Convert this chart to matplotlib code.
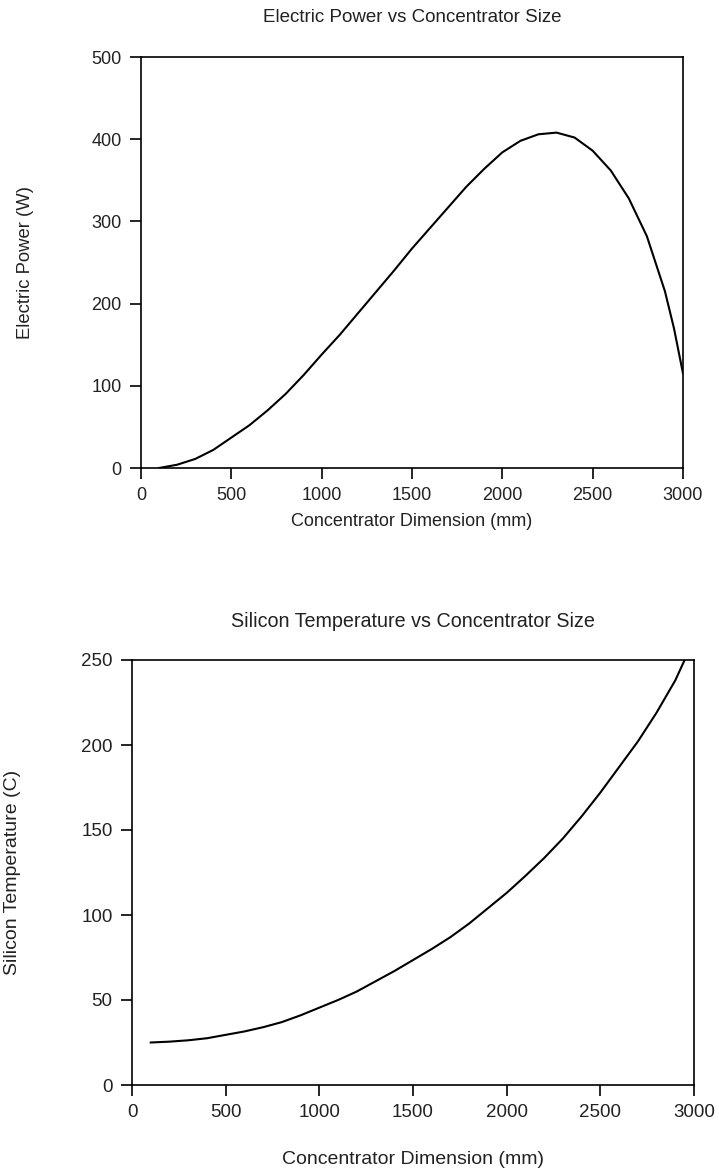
import matplotlib
matplotlib.use("Agg")
import matplotlib.pyplot as plt

plt.rcParams['font.family'] = ['Liberation Sans', 'DejaVu Sans']

# Electric power vs concentrator dimension
dim_power = [100, 200, 300, 400, 500, 600, 700, 800, 900, 1000, 1100, 1200, 1300, 1400,
             1500, 1600, 1700, 1800, 1900, 2000, 2100, 2200, 2300, 2400, 2500, 2600,
             2700, 2800, 2900, 2950, 3000]
power = [0, 4, 11, 22, 37, 52, 70, 90, 113, 138, 162, 188, 214, 240,
         267, 292, 317, 342, 364, 384, 398, 406, 408, 402, 386, 362,
         328, 282, 215, 170, 115]

# Silicon temperature vs concentrator dimension
dim_temp = [100, 200, 300, 400, 500, 600, 700, 800, 900, 1000, 1100, 1200, 1300, 1400,
            1500, 1600, 1700, 1800, 1900, 2000, 2100, 2200, 2300, 2400, 2500, 2600,
            2700, 2800, 2900, 2950]
temp = [25, 25.5, 26.3, 27.5, 29.5, 31.5, 34, 37, 41, 45.5, 50, 55, 61, 67,
        73.5, 80, 87, 95, 104, 113, 123, 133.5, 145, 158, 172, 187,
        202, 219, 238, 250]

x_ticks = [0, 500, 1000, 1500, 2000, 2500, 3000]
power_ticks = [0, 100, 200, 300, 400, 500]
temp_ticks = [0, 50, 100, 150, 200, 250]

W, H = 719, 1169
fig = plt.figure(figsize=(W / 100, H / 100), dpi=100)

def box(l, t, r, b):
    return [l / W, 1 - b / H, (r - l) / W, (b - t) / H]

tc = '#222222'

def style(ax, fs):
    for s in ax.spines.values():
        s.set_linewidth(1.2)
        s.set_color('black')
    ax.tick_params(direction='out', length=8, width=1.2, labelsize=fs, colors='black',
                   labelcolor=tc, pad=6)

ax1 = fig.add_axes(box(141, 57, 683, 468))
ax1.plot(dim_power, power, color='black', lw=1.5)
ax1.set_xlim(0, 3000)
ax1.set_ylim(0, 500)
ax1.set_xticks(x_ticks)
ax1.set_yticks(power_ticks)
style(ax1, 13)
ax1.set_title('Electric Power vs Concentrator Size', fontsize=13.5, color=tc, pad=25)
ax1.set_xlabel('Concentrator Dimension (mm)', fontsize=13, color=tc, labelpad=6)
ax1.set_ylabel('Electric Power (W)', fontsize=13.3, color=tc, labelpad=41)

ax2 = fig.add_axes(box(132, 660, 694, 1085))
ax2.plot(dim_temp, temp, color='black', lw=1.5)
ax2.set_xlim(0, 3000)
ax2.set_ylim(0, 250)
ax2.set_xticks(x_ticks)
ax2.set_yticks(temp_ticks)
style(ax2, 13.5)
ax2.set_title('Silicon Temperature vs Concentrator Size', fontsize=14.2, color=tc, pad=24)
ax2.set_xlabel('Concentrator Dimension (mm)', fontsize=14, color=tc, labelpad=21)
ax2.set_ylabel('Silicon Temperature (C)', fontsize=14, color=tc, labelpad=43)

fig.savefig('out.png', dpi=100)
